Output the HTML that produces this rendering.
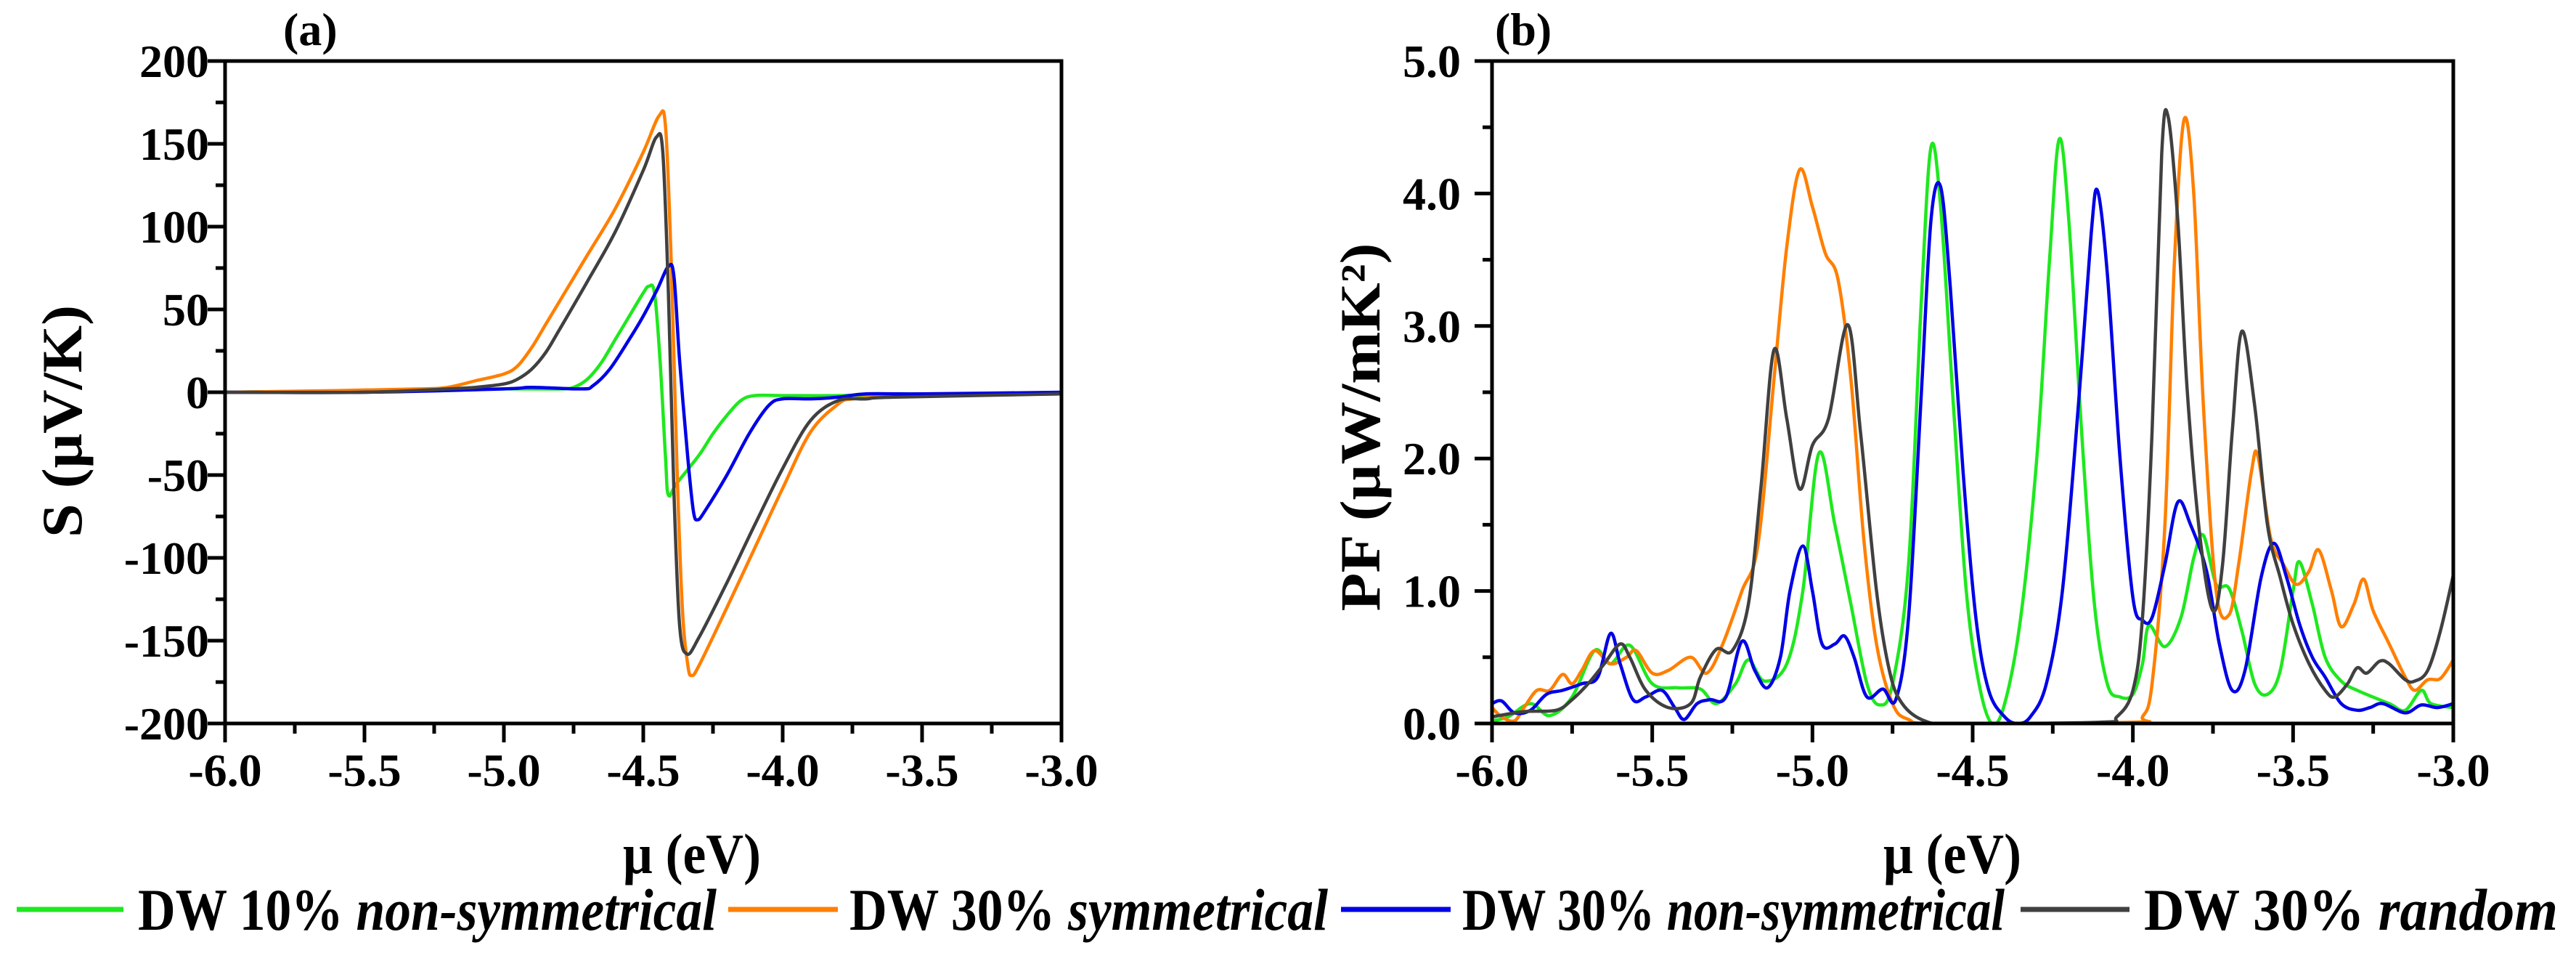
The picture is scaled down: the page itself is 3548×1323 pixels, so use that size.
<!DOCTYPE html>
<html><head><meta charset="utf-8"><style>
html,body{margin:0;padding:0;background:#fff;}
svg{display:block;font-family:"Liberation Serif",serif;font-weight:bold;}
</style></head><body>
<svg id="chart" width="3548" height="1323" viewBox="0 0 3548 1323" xmlns="http://www.w3.org/2000/svg">
<g id="pa"></g>
<g id="pb"></g>
<g id="legend"></g>
</svg>
<script>
// Panel (a) Seebeck data
const aGreenX=[-6,-5.5,-5.0,-4.8,-4.75,-4.7,-4.65,-4.6,-4.55,-4.5,-4.48,-4.46,-4.44,-4.42,-4.41,-4.38,-4.3,-4.25,-4.2,-4.15,-4.1,-4.0,-3.8,-3.6,-3.5,-3.0];
const aGreenY=[0,1,2,2,3,8,18,32,46,60,64,60,20,-40,-62,-55,-38,-25,-14,-5,-2,-2,-2,-1,-1,-1];
const aOrangeX=[-6,-5.6,-5.3,-5.2,-5.1,-5.0,-4.95,-4.9,-4.85,-4.8,-4.7,-4.6,-4.5,-4.443,-4.42,-4.40,-4.38,-4.36,-4.34,-4.326,-4.3,-4.2,-4.1,-4.0,-3.9,-3.8,-3.75,-3.65,-3.5,-3.0];
const aOrangeY=[0,1,2,3,7,11,16,27,41,55,83,111,145,167,160,80,-40,-130,-165,-171,-165,-130,-94,-58,-24,-7,-4,-3,-2,-1];
const aBlueX=[-6,-5.5,-5.0,-4.9,-4.72,-4.68,-4.62,-4.55,-4.5,-4.45,-4.41,-4.39,-4.37,-4.34,-4.32,-4.305,-4.28,-4.2,-4.12,-4.05,-4.0,-3.9,-3.8,-3.7,-3.5,-3.0];
const aBlueY=[0,0,2,3,2,4,14,32,46,62,76,70,20,-40,-72,-77,-72,-50,-25,-8,-4,-4,-3,-1,-1,0];
const aGrayX=[-6,-5.5,-5.2,-5.1,-5.0,-4.95,-4.9,-4.85,-4.8,-4.7,-4.6,-4.5,-4.453,-4.43,-4.41,-4.39,-4.37,-4.344,-4.3,-4.2,-4.1,-4.0,-3.9,-3.8,-3.7,-3.6,-3.0];
const aGrayY=[0,0,2,3,5,8,14,24,38,67,97,134,154,145,60,-60,-140,-158,-148,-115,-80,-46,-17,-5,-4,-3,-1];
const aYTicks=[-200,-150,-100,-50,0,50,100,150,200];
const aYTickLabels=["-200","-150","-100","-50","0","50","100","150","200"];
const xTicks=[-6,-5.5,-5,-4.5,-4,-3.5,-3];
const xTickLabels=["-6.0","-5.5","-5.0","-4.5","-4.0","-3.5","-3.0"];

// Panel (b) power factor data
const bGreenX=[-6,-5.95,-5.88,-5.82,-5.75,-5.68,-5.63,-5.57,-5.5,-5.42,-5.35,-5.3,-5.24,-5.2,-5.15,-5.08,-5.03,-4.98,-4.93,-4.88,-4.83,-4.79,-4.75,-4.7,-4.66,-4.63,-4.6,-4.56,-4.52,-4.48,-4.44,-4.4,-4.35,-4.3,-4.26,-4.23,-4.2,-4.16,-4.12,-4.08,-4.04,-4.0,-3.97,-3.95,-3.9,-3.85,-3.81,-3.78,-3.74,-3.7,-3.66,-3.62,-3.58,-3.54,-3.5,-3.48,-3.44,-3.4,-3.35,-3.3,-3.2,-3.15,-3.1,-3.07,-3.0];
const bGreenY=[0.02,0.05,0.15,0.06,0.2,0.55,0.45,0.59,0.3,0.27,0.26,0.15,0.3,0.48,0.32,0.45,1.0,2.04,1.5,0.9,0.3,0.14,0.3,1.2,3.2,4.35,3.9,2.4,1.0,0.3,0.0,0.15,0.8,2.0,3.5,4.41,3.8,2.2,0.9,0.3,0.2,0.22,0.45,0.74,0.58,0.8,1.25,1.42,1.05,1.02,0.7,0.3,0.22,0.4,1.0,1.22,0.9,0.5,0.32,0.25,0.15,0.1,0.25,0.15,0.12];
const bOrangeX=[-6,-5.97,-5.93,-5.9,-5.86,-5.82,-5.78,-5.75,-5.72,-5.68,-5.63,-5.58,-5.55,-5.5,-5.45,-5.38,-5.33,-5.28,-5.22,-5.17,-5.12,-5.08,-5.04,-5.0,-4.96,-4.92,-4.88,-4.84,-4.8,-4.75,-4.7,-4.6,-4.0,-3.97,-3.94,-3.9,-3.87,-3.84,-3.81,-3.78,-3.74,-3.7,-3.67,-3.63,-3.61,-3.57,-3.53,-3.49,-3.45,-3.42,-3.38,-3.35,-3.31,-3.28,-3.25,-3.2,-3.15,-3.12,-3.08,-3.04,-3.0];
const bOrangeY=[0.12,0.05,0.02,0.12,0.25,0.25,0.37,0.3,0.4,0.55,0.45,0.5,0.55,0.38,0.4,0.5,0.38,0.6,1.0,1.35,2.6,3.6,4.18,3.9,3.55,3.35,2.6,1.4,0.6,0.15,0.03,0,0.01,0.05,0.3,1.5,3.5,4.56,4.0,2.4,1.0,0.82,1.2,1.9,2.02,1.4,1.2,1.05,1.15,1.31,1.0,0.73,0.9,1.09,0.85,0.6,0.35,0.25,0.33,0.34,0.48];
const bBlueX=[-6,-5.97,-5.93,-5.88,-5.83,-5.78,-5.72,-5.67,-5.63,-5.6,-5.56,-5.52,-5.47,-5.43,-5.4,-5.36,-5.32,-5.27,-5.22,-5.18,-5.14,-5.1,-5.07,-5.03,-5.0,-4.97,-4.93,-4.9,-4.87,-4.83,-4.78,-4.74,-4.7,-4.66,-4.63,-4.6,-4.57,-4.53,-4.49,-4.45,-4.4,-4.36,-4.32,-4.27,-4.22,-4.17,-4.13,-4.11,-4.08,-4.04,-4.0,-3.97,-3.94,-3.9,-3.86,-3.82,-3.77,-3.73,-3.69,-3.65,-3.6,-3.56,-3.52,-3.48,-3.44,-3.4,-3.35,-3.3,-3.26,-3.22,-3.15,-3.1,-3.05,-3.0];
const bBlueY=[0.15,0.17,0.08,0.1,0.22,0.25,0.3,0.35,0.68,0.45,0.18,0.2,0.25,0.12,0.03,0.15,0.18,0.2,0.62,0.4,0.27,0.5,1.0,1.34,1.0,0.6,0.6,0.66,0.5,0.2,0.26,0.18,0.8,2.5,3.8,4.05,3.3,1.9,0.8,0.25,0.05,0,0.05,0.3,1.0,2.4,3.7,4.02,3.4,2.0,0.95,0.78,0.8,1.2,1.67,1.5,1.15,0.6,0.25,0.4,1.1,1.36,1.1,0.75,0.5,0.35,0.15,0.1,0.12,0.15,0.08,0.14,0.12,0.15];
const bGrayX=[-6,-5.9,-5.8,-5.75,-5.7,-5.65,-5.6,-5.57,-5.52,-5.45,-5.38,-5.35,-5.3,-5.25,-5.2,-5.16,-5.12,-5.08,-5.04,-5.0,-4.95,-4.89,-4.85,-4.8,-4.76,-4.72,-4.65,-4.55,-4.1,-4.05,-4.0,-3.97,-3.94,-3.91,-3.89,-3.86,-3.83,-3.79,-3.75,-3.72,-3.69,-3.66,-3.62,-3.58,-3.54,-3.5,-3.45,-3.4,-3.37,-3.33,-3.3,-3.27,-3.23,-3.2,-3.15,-3.12,-3.08,-3.04,-3.0];
const bGrayY=[0.05,0.09,0.1,0.18,0.3,0.45,0.6,0.5,0.25,0.12,0.15,0.35,0.56,0.55,0.9,1.8,2.82,2.3,1.77,2.1,2.3,3.01,2.2,1.0,0.4,0.15,0.02,0,0.01,0.05,0.25,0.8,2.2,4.3,4.58,3.8,2.5,1.4,0.85,1.2,2.2,2.96,2.4,1.5,1.1,0.75,0.45,0.25,0.2,0.3,0.42,0.38,0.47,0.45,0.33,0.32,0.4,0.7,1.12];
const bYTicks=[0,1,2,3,4,5];
const bYTickLabels=["0.0","1.0","2.0","3.0","4.0","5.0"];

const NS="http://www.w3.org/2000/svg";
function mk(tag,attrs,parent){const e=document.createElementNS(NS,tag);for(const k in attrs)e.setAttribute(k,attrs[k]);parent.appendChild(e);return e;}
function smoothPath(pts){
  let d="M"+pts[0][0].toFixed(1)+","+pts[0][1].toFixed(1);
  for(let i=0;i<pts.length-1;i++){
    const p0=pts[i-1]||pts[i],p1=pts[i],p2=pts[i+1],p3=pts[i+2]||p2;
    const c1=[p1[0]+(p2[0]-p0[0])/6,p1[1]+(p2[1]-p0[1])/6];
    const c2=[p2[0]-(p3[0]-p1[0])/6,p2[1]-(p3[1]-p1[1])/6];
    d+="C"+c1[0].toFixed(1)+","+c1[1].toFixed(1)+" "+c2[0].toFixed(1)+","+c2[1].toFixed(1)+" "+p2[0].toFixed(1)+","+p2[1].toFixed(1);
  }
  return d;
}
const COLORS={green:"#1ee81e",orange:"#ff7f00",blue:"#0000e6",gray:"#404040"};

function panel(g,cfg){
  const {L,R,T,B,ymin,ymax,yTicks,yLabels,yMinorStep,series,title,label,labelX,titleX,titleY,titleLen,labelRight,xtLen,xtX}=cfg;
  const sx=v=>L+(v-(-6))/3*(R-L);
  const sy=v=>B-(v-ymin)/(ymax-ymin)*(B-T);
  const cid=g.id+"clip";
  const cp=mk("clipPath",{id:cid},g);mk("rect",{x:L,y:T,width:R-L,height:B-T},cp);
  const sg=mk("g",{"clip-path":"url(#"+cid+")"},g);
  series.forEach(s=>{
    const pts=s.x.map((xv,i)=>[sx(xv),sy(s.y[i])]);
    const p=mk("path",{d:smoothPath(pts),fill:"none",stroke:COLORS[s.c],"stroke-width":4.5,"stroke-linejoin":"round"},sg);
    
    
  });
  const fr=mk("rect",{x:L,y:T,width:R-L,height:B-T,fill:"none",stroke:"#000","stroke-width":5},g);
  
  
  for(let v=-6;v<=-3.001+0.25;v+=0.25){
    const major=Math.abs(v*2-Math.round(v*2))<1e-6;
    mk("line",{x1:sx(v),x2:sx(v),y1:B,y2:B+(major?26:14),stroke:"#000","stroke-width":5},g);
  }
  xTicks.forEach((v,i)=>{
    const t=mk("text",{x:sx(v),y:1082,"text-anchor":"middle","font-size":64},g);
    t.textContent=xTickLabels[i];
    
    
  });
  for(let v=ymin;v<=ymax+1e-6;v+=yMinorStep){
    const major=yTicks.some(t=>Math.abs(t-v)<1e-6);
    mk("line",{x1:L,x2:L-(major?24:13),y1:sy(v),y2:sy(v),stroke:"#000","stroke-width":5},g);
  }
  yTicks.forEach((v,i)=>{
    const t=mk("text",{x:labelRight,y:sy(v)+22,"text-anchor":"end","font-size":64},g);
    t.textContent=yLabels[i];
    
    
  });
  const xt=mk("text",{x:xtX,y:1202,"text-anchor":"middle","font-size":78,textLength:xtLen,lengthAdjust:"spacingAndGlyphs"},g);
  xt.textContent="μ (eV)";
  
  
  const yt=mk("text",{x:0,y:0,"text-anchor":"middle","font-size":78,textLength:titleLen,lengthAdjust:"spacingAndGlyphs",transform:"translate("+titleX+","+titleY+") rotate(-90)"},g);
  yt.textContent=title;
  
  
  const pl=mk("text",{x:labelX,y:62,"font-size":64},g);
  pl.textContent=label;
  
  
}

panel(document.getElementById("pa"),{L:310,R:1462,T:84,B:996,ymin:-200,ymax:200,yTicks:aYTicks,yLabels:aYTickLabels,yMinorStep:25,labelRight:288,titleX:112,titleY:580,titleLen:320,xtLen:190,xtX:953,title:"S (μV/K)",label:"(a)",labelX:390,
 series:[{x:aGreenX,y:aGreenY,c:"green",name:"seebeck-dw10-nonsym"},{x:aOrangeX,y:aOrangeY,c:"orange",name:"seebeck-dw30-sym"},{x:aBlueX,y:aBlueY,c:"blue",name:"seebeck-dw30-nonsym"},{x:aGrayX,y:aGrayY,c:"gray",name:"seebeck-dw30-random"}]});
panel(document.getElementById("pb"),{L:2055,R:3379,T:84,B:996,ymin:0,ymax:5,yTicks:bYTicks,yLabels:bYTickLabels,yMinorStep:0.5,labelRight:2012,titleX:1900,titleY:588,titleLen:507,xtLen:190,xtX:2689,title:"PF (μW/mK²)",label:"(b)",labelX:2059,
 series:[{x:bGreenX,y:bGreenY,c:"green",name:"pf-dw10-nonsym"},{x:bOrangeX,y:bOrangeY,c:"orange",name:"pf-dw30-sym"},{x:bBlueX,y:bBlueY,c:"blue",name:"pf-dw30-nonsym"},{x:bGrayX,y:bGrayY,c:"gray",name:"pf-dw30-random"}]});

const legItems=[
 {c:"green",a:"DW 10% ",b:"non-symmetrical",x1:23,x2:170,tx:190,tl:797,name:"legend-dw10-nonsym"},
 {c:"orange",a:"DW 30% ",b:"symmetrical",x1:1003,x2:1154,tx:1170,tl:659,name:"legend-dw30-sym"},
 {c:"blue",a:"DW 30% ",b:"non-symmetrical",x1:1847,x2:1998,tx:2014,tl:747,name:"legend-dw30-nonsym"},
 {c:"gray",a:"DW 30% ",b:"random",x1:2783,x2:2933,tx:2953,tl:570,name:"legend-dw30-random"}];
const lg=document.getElementById("legend");
legItems.forEach(it=>{
  const g=mk("g",{},lg);
  
  
  mk("line",{x1:it.x1,x2:it.x2,y1:1252,y2:1252,stroke:COLORS[it.c],"stroke-width":7},g);
  const t=mk("text",{x:it.tx,y:1280,"font-size":82,textLength:it.tl,lengthAdjust:"spacingAndGlyphs"},g);
  const s1=mk("tspan",{},t);s1.textContent=it.a;
  const s2=mk("tspan",{"font-style":"italic"},t);s2.textContent=it.b;
});
</script>
</body></html>
